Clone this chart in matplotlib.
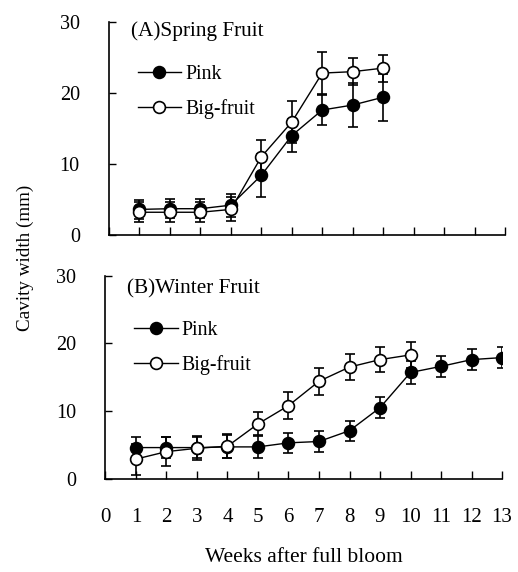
import numpy as np
import matplotlib.pyplot as plt
from matplotlib.lines import Line2D

plt.rcParams['font.family'] = ['Liberation Serif', 'DejaVu Serif']
plt.rcParams['font.size'] = 14

# (A) Spring fruit, weeks 1-9
spring_weeks = [1, 2, 3, 4, 5, 6, 7, 8, 9]
spring_pink = [3.6, 3.7, 3.7, 4.2, 8.4, 14.0, 17.6, 18.3, 19.4]
spring_pink_err = [1.3, 1.3, 1.3, 1.6, 3.0, 2.3, 2.1, 3.1, 3.3]
spring_big = [3.2, 3.2, 3.2, 3.6, 11.0, 15.9, 22.8, 23.0, 23.5]
spring_big_err = [1.4, 1.4, 1.4, 1.7, 2.4, 3.0, 2.9, 1.9, 1.9]

# (B) Winter fruit
winter_pink_weeks = [1, 2, 3, 4, 5, 6, 7, 8, 9, 10, 11, 12, 13]
winter_pink = [4.6, 4.6, 4.6, 4.7, 4.7, 5.3, 5.5, 7.1, 10.5, 15.7, 16.6, 17.6, 17.9]
winter_pink_err = [1.5, 1.5, 1.6, 1.7, 1.6, 1.5, 1.6, 1.5, 1.6, 1.7, 1.5, 1.5, 1.6]
winter_big_weeks = [1, 2, 3, 4, 5, 6, 7, 8, 9, 10]
winter_big = [2.9, 4.0, 4.5, 4.8, 8.1, 10.8, 14.4, 16.5, 17.6, 18.3]
winter_big_err = [2.3, 2.1, 1.8, 1.8, 1.7, 2.0, 2.0, 1.9, 1.8, 1.9]

x_ticks = list(range(0, 14))

fig = plt.figure(figsize=(5.18, 5.72), dpi=100)
ax_a = fig.add_axes([0.2104, 0.5892, 0.7645, 0.3724])
ax_b = fig.add_axes([0.2035, 0.1631, 0.7658, 0.3549])


def draw_panel(ax, title, pink_x, pink_y, pink_e, big_x, big_y, big_e, legend_y):
    style = dict(color='black', lw=1.0, ms=8.5, capsize=3.6, elinewidth=1.2,
                 capthick=1.2, markeredgewidth=1.2, markeredgecolor='black')
    ax.errorbar(big_x, big_y, yerr=big_e, fmt='-o', markerfacecolor='white',
                zorder=3, **style)
    ax.errorbar(pink_x, pink_y, yerr=pink_e, fmt='-o', markerfacecolor='black',
                zorder=2, **style)
    ax.set_xlim(0, 13)
    ax.set_ylim(0, 30)
    ax.set_yticks([0, 10, 20, 30])
    ax.set_xticks(x_ticks)
    ax.spines['top'].set_visible(False)
    ax.spines['right'].set_visible(False)
    ax.tick_params(axis='y', direction='in', length=5, width=1, labelsize=14.5, pad=21)
    ax.tick_params(axis='x', direction='in', length=6, width=1, labelsize=15)
    for s in ['left', 'bottom']:
        ax.spines[s].set_linewidth(1.2)
    ax.text(0.055, legend_y[0], title, transform=ax.transAxes, fontsize=15.3,
            va='center', ha='left')
    # legend handles without the error bars
    handles = [
        Line2D([], [], color='black', lw=1.0, marker='o', ms=8.5,
               markerfacecolor='black', markeredgecolor='black', markeredgewidth=1.2),
        Line2D([], [], color='black', lw=1.0, marker='o', ms=8.5,
               markerfacecolor='white', markeredgecolor='black', markeredgewidth=1.2),
    ]
    ax.legend(handles, ['Pink', 'Big-fruit'], loc='upper left',
              bbox_to_anchor=(0.052, legend_y[1]), frameon=False,
              fontsize=14.3, handlelength=2.2, handletextpad=0.2,
              labelspacing=0.75, borderaxespad=0)


draw_panel(ax_a, '(A)Spring Fruit', spring_weeks, spring_pink, spring_pink_err,
           spring_weeks, spring_big, spring_big_err, (0.955, 0.835))
draw_panel(ax_b, '(B)Winter Fruit', winter_pink_weeks, winter_pink, winter_pink_err,
           winter_big_weeks, winter_big, winter_big_err, (0.935, 0.815))

ax_a.tick_params(axis='x', labelbottom=False)
ax_b.tick_params(axis='x', pad=21)

fig.text(0.586, 0.025, 'Weeks after full bloom', ha='center', va='center',
         fontsize=15.5)
fig.text(0.048, 0.549, 'Cavity width (mm)', rotation=90, ha='center',
         va='center', fontsize=13.8)

fig.savefig('out.png', dpi=100)
